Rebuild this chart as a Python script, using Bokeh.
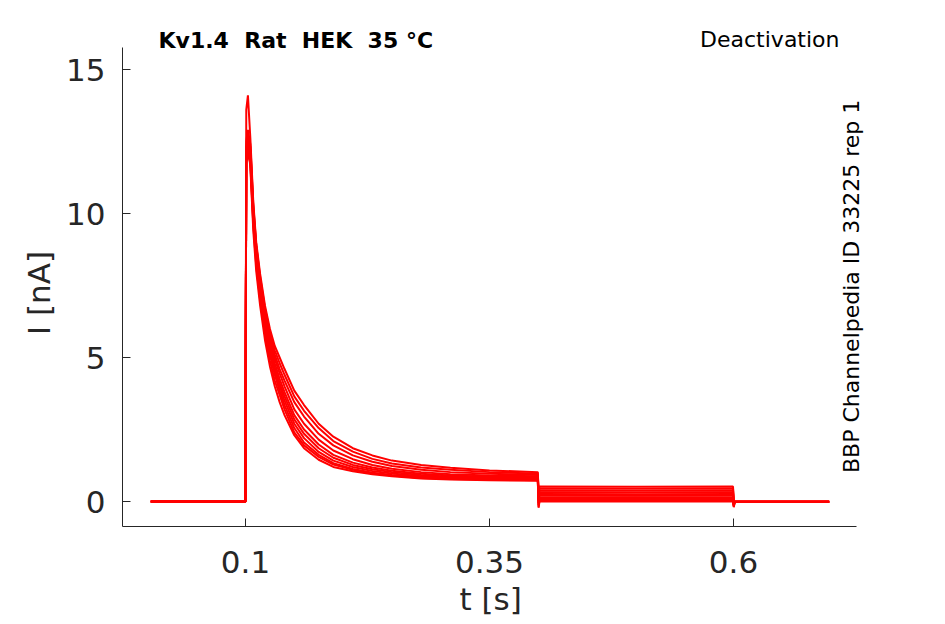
from math import pi
from bokeh.plotting import figure
from bokeh.models import Label, Range1d
from bokeh.embed import file_html
from bokeh.resources import INLINE

# ---- data ----
base_t = [0.003, 0.0999]
rise_t = [0.1008]
decay_t = [0.1025, 0.105, 0.108, 0.111, 0.115, 0.120, 0.125, 0.130, 0.135, 0.140,
           0.150, 0.160, 0.175, 0.190, 0.210, 0.230, 0.250, 0.280, 0.310, 0.350, 0.3995]
tail_t = [0.4003, 0.4012, 0.500, 0.5995, 0.6003, 0.6012, 0.698]

decay_I = [
    [12.4, 11.6, 9.4, 8.0, 6.8, 5.6, 4.7, 4.0, 3.45, 3.0, 2.3, 1.85, 1.45, 1.2, 1.05, 0.95, 0.88, 0.80, 0.76, 0.74, 0.72],
    [12.2, 11.7, 9.6, 8.2, 7.0, 5.8, 4.9, 4.2, 3.7, 3.2, 2.4, 1.95, 1.55, 1.28, 1.1, 0.98, 0.9, 0.82, 0.78, 0.76, 0.74],
    [12.0, 11.8, 9.7, 8.4, 7.1, 6.0, 5.1, 4.4, 3.85, 3.35, 2.55, 2.05, 1.62, 1.33, 1.13, 1.0, 0.92, 0.84, 0.8, 0.77, 0.76],
    [12.3, 11.9, 9.8, 8.5, 7.3, 6.1, 5.2, 4.5, 4.0, 3.5, 2.7, 2.2, 1.72, 1.42, 1.2, 1.06, 0.97, 0.88, 0.83, 0.8, 0.79],
    [12.1, 12.0, 9.9, 8.6, 7.4, 6.2, 5.35, 4.65, 4.1, 3.65, 2.85, 2.35, 1.85, 1.52, 1.27, 1.12, 1.02, 0.92, 0.86, 0.83, 0.82],
    [12.6, 12.1, 10.0, 8.7, 7.5, 6.35, 5.5, 4.8, 4.25, 3.8, 3.0, 2.5, 1.98, 1.62, 1.35, 1.18, 1.07, 0.96, 0.9, 0.86, 0.85],
    [12.4, 12.2, 10.1, 8.8, 7.6, 6.45, 5.6, 4.95, 4.45, 4.0, 3.2, 2.7, 2.15, 1.77, 1.47, 1.27, 1.14, 1.02, 0.95, 0.9, 0.88],
    [12.7, 12.3, 10.2, 8.9, 7.7, 6.6, 5.75, 5.1, 4.6, 4.2, 3.45, 2.95, 2.35, 1.95, 1.6, 1.38, 1.23, 1.1, 1.02, 0.96, 0.92],
    [12.9, 12.4, 10.3, 8.9, 7.8, 6.7, 5.9, 5.25, 4.8, 4.4, 3.65, 3.15, 2.55, 2.1, 1.73, 1.48, 1.32, 1.18, 1.1, 1.02, 0.97],
    [14.1, 12.6, 10.4, 9.0, 7.9, 6.8, 6.0, 5.4, 5.0, 4.6, 3.85, 3.35, 2.7, 2.25, 1.85, 1.6, 1.42, 1.27, 1.17, 1.08, 1.02],
]
base_I = [0.0, -0.01, 0.01, 0.0, -0.02, 0.0, 0.01, -0.01, 0.0, 0.01]
rise_I = [12.0, 11.9, 11.8, 12.0, 11.9, 12.2, 12.1, 12.3, 12.5, 13.6]
dip1_I = [-0.22, -0.18, -0.12, -0.05, 0.02, 0.08, 0.14, 0.2, 0.26, 0.32]
level_I = [0.0, 0.04, 0.09, 0.14, 0.2, 0.26, 0.32, 0.38, 0.45, 0.52]
level_mid_I = [0.01, 0.05, 0.09, 0.15, 0.2, 0.25, 0.31, 0.37, 0.44, 0.51]
dip2_I = [-0.18, -0.2, -0.16, -0.14, -0.12, -0.1, -0.08, -0.06, -0.05, -0.04]
end_I = [-0.02, -0.01, -0.02, 0.0, -0.01, -0.02, 0.0, -0.01, -0.02, -0.01]

x_ticks = [0.1, 0.35, 0.6]
x_tick_labels = ["0.1", "0.35", "0.6"]
y_ticks = [0, 5, 10, 15]
x_axis_extent = (-0.026, 0.726)
y_axis_extent = (-0.868, 15.76)

title_text = "Kv1.4\u00a0 Rat\u00a0 HEK\u00a0 35 °C"
protocol_text = "Deactivation"
side_text = "BBP Channelpedia ID 33225 rep 1"
x_label = "t [s]"
y_label = "I [nA]"

# ---- figure ----
FONT = "DejaVu Sans"
TXT = "#262626"
NB = "\u00a0"

p = figure(width=937, height=624, output_backend="svg", toolbar_location=None,
           x_range=Range1d(-0.026, 0.809), y_range=Range1d(-0.868, 17.396),
           min_border_left=122, min_border_right=0, min_border_top=0, min_border_bottom=98)
p.outline_line_color = None
p.grid.visible = False
p.background_fill_color = "white"

for k in range(len(decay_I)):
    xs = base_t + rise_t + decay_t + tail_t
    ys = ([base_I[k], base_I[k]] + [rise_I[k]] + decay_I[k] +
          [dip1_I[k], level_I[k], level_mid_I[k], level_I[k], dip2_I[k], end_I[k], end_I[k]])
    p.line(xs, ys, line_color="#ff0000", line_width=2)

for ax in (p.xaxis[0], p.yaxis[0]):
    ax.axis_line_color = TXT
    ax.axis_line_width = 1
    ax.major_tick_line_color = TXT
    ax.major_tick_in = 8
    ax.major_tick_out = 0
    ax.minor_tick_line_color = None
    ax.major_label_text_font = FONT
    ax.major_label_text_font_size = "31px"
    ax.major_label_text_color = TXT
    ax.axis_label_text_font = FONT
    ax.axis_label_text_font_size = "31px"
    ax.axis_label_text_color = TXT
    ax.axis_label_text_font_style = "normal"

p.xaxis.bounds = x_axis_extent
p.yaxis.bounds = y_axis_extent
p.xaxis.ticker = x_ticks
p.xaxis.major_label_overrides = {t: s for t, s in zip(x_ticks, x_tick_labels)}
p.yaxis.ticker = y_ticks
# trailing no-break spaces shift the centred label to the middle of the drawn axis
p.xaxis.axis_label = x_label + NB * 8
p.yaxis.axis_label = y_label + NB * 6
p.xaxis.major_label_standoff = 24
p.yaxis.major_label_standoff = 17
p.xaxis.axis_label_standoff = 5
p.yaxis.axis_label_standoff = 6

p.add_layout(Label(x=0.0109, y=15.99, text=title_text, text_font=FONT, text_font_size="22px",
                   text_font_style="bold", text_color="black", text_baseline="alphabetic",
                   text_align="left"))
p.add_layout(Label(x=0.7086, y=16.03, text=protocol_text, text_font=FONT, text_font_size="22px",
                   text_color="black", text_baseline="alphabetic", text_align="right"))
p.add_layout(Label(x=0.7208, y=7.47, text=side_text, text_font=FONT, text_font_size="22px",
                   text_color="black", text_baseline="alphabetic", text_align="center",
                   angle=pi / 2))

open("out.html", "w").write(file_html(p, INLINE))
